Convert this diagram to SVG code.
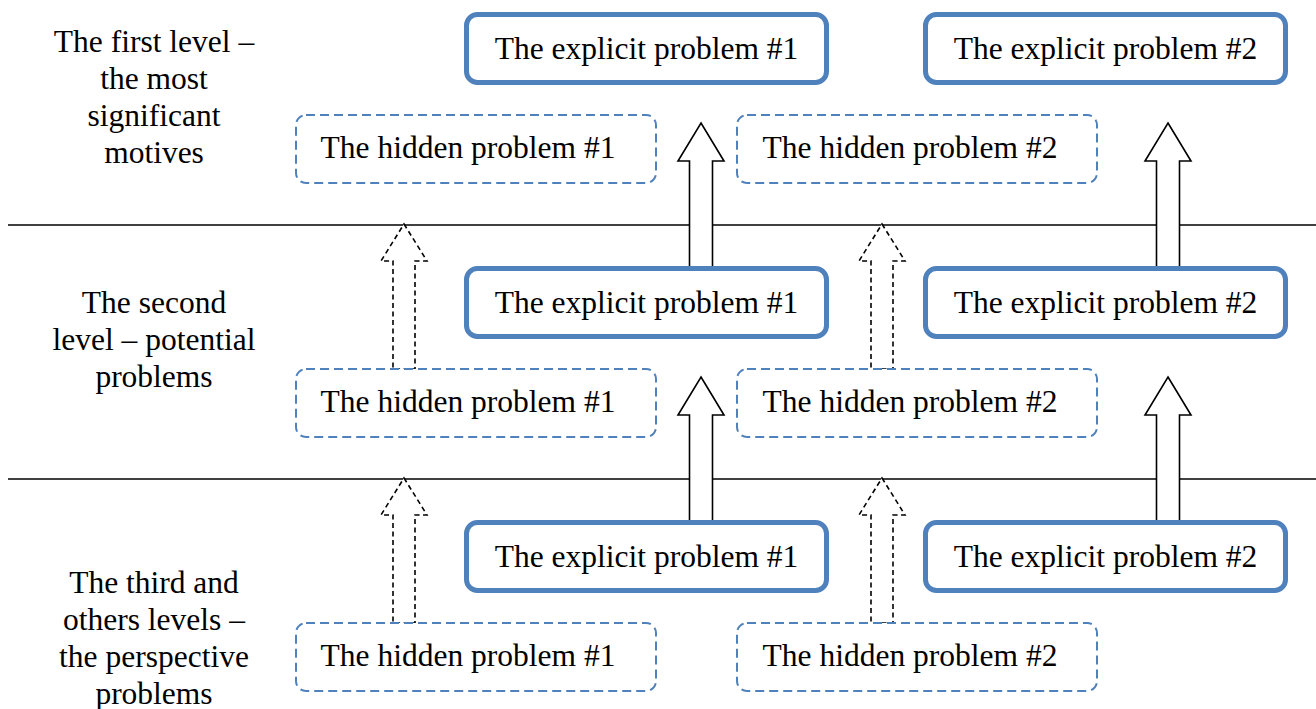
<svg xmlns="http://www.w3.org/2000/svg" width="1316" height="709" viewBox="0 0 1316 709">
<style>
.bg{fill:#ffffff}
.sep{stroke:#000;stroke-width:1.5}
.exp{fill:#fff;stroke:#4f81bd;stroke-width:5}
.hid{fill:#fff;stroke:#4f81bd;stroke-width:2;stroke-dasharray:9,5}
.t{font-family:"Liberation Serif","Times New Roman",serif;font-size:31.5px;fill:#000;text-anchor:middle}
.arr{fill:#fff;stroke:#000;stroke-width:1.6;stroke-linejoin:miter}
.darr{fill:#fff;stroke:#000;stroke-width:1.6;stroke-dasharray:5,3.5}
</style>
<rect class="bg" x="0" y="0" width="1316" height="709"/>
<g id="separators">
<line class="sep" x1="8" y1="225" x2="1316" y2="225"/>
<line class="sep" x1="8" y1="479" x2="1316" y2="479"/>
</g>
<g id="level-labels">
<text class="t" x="154" y="52">The first level –</text>
<text class="t" x="154" y="89">the most</text>
<text class="t" x="154" y="126">significant</text>
<text class="t" x="154" y="163">motives</text>
<text class="t" x="154" y="313">The second</text>
<text class="t" x="154" y="350">level – potential</text>
<text class="t" x="154" y="387">problems</text>
<text class="t" x="154" y="593">The third and</text>
<text class="t" x="154" y="630">others levels –</text>
<text class="t" x="154" y="667">the perspective</text>
<text class="t" x="154" y="704">problems</text>
</g>
<g id="connectors">
<path class="arr" d="M701,123 L724,161 L712.5,161 L712.5,268 L689.5,268 L689.5,161 L678,161 Z"/>
<path class="arr" d="M1168,123 L1191,161 L1179.5,161 L1179.5,268 L1156.5,268 L1156.5,161 L1145,161 Z"/>
<path class="arr" d="M701,377 L724,415 L712.5,415 L712.5,522 L689.5,522 L689.5,415 L678,415 Z"/>
<path class="arr" d="M1168,377 L1191,415 L1179.5,415 L1179.5,522 L1156.5,522 L1156.5,415 L1145,415 Z"/>
<path class="darr" d="M404,224 L427,261 L415,261 L415,369 L393,369 L393,261 L381,261 Z"/>
<path class="darr" d="M882,224 L905,261 L893,261 L893,369 L871,369 L871,261 L859,261 Z"/>
<path class="darr" d="M404,478 L427,515 L415,515 L415,623 L393,623 L393,515 L381,515 Z"/>
<path class="darr" d="M882,478 L905,515 L893,515 L893,623 L871,623 L871,515 L859,515 Z"/>
</g>
<g id="explicit-1-L1"><rect class="exp" x="466.5" y="14.5" width="360" height="68" rx="11"/><text class="t" x="646.5" y="59">The explicit problem #1</text></g>
<g id="explicit-2-L1"><rect class="exp" x="925.5" y="14.5" width="360" height="68" rx="11"/><text class="t" x="1105.5" y="59">The explicit problem #2</text></g>
<g id="hidden-1-L1"><rect class="hid" x="296" y="115" width="360" height="68" rx="10"/><text class="t" x="468" y="158">The hidden problem #1</text></g>
<g id="hidden-2-L1"><rect class="hid" x="737" y="115" width="360" height="68" rx="10"/><text class="t" x="910" y="158">The hidden problem #2</text></g>
<g id="explicit-1-L2"><rect class="exp" x="466.5" y="268.5" width="360" height="68" rx="11"/><text class="t" x="646.5" y="313">The explicit problem #1</text></g>
<g id="explicit-2-L2"><rect class="exp" x="925.5" y="268.5" width="360" height="68" rx="11"/><text class="t" x="1105.5" y="313">The explicit problem #2</text></g>
<g id="hidden-1-L2"><rect class="hid" x="296" y="369" width="360" height="68" rx="10"/><text class="t" x="468" y="412">The hidden problem #1</text></g>
<g id="hidden-2-L2"><rect class="hid" x="737" y="369" width="360" height="68" rx="10"/><text class="t" x="910" y="412">The hidden problem #2</text></g>
<g id="explicit-1-L3"><rect class="exp" x="466.5" y="522.5" width="360" height="68" rx="11"/><text class="t" x="646.5" y="567">The explicit problem #1</text></g>
<g id="explicit-2-L3"><rect class="exp" x="925.5" y="522.5" width="360" height="68" rx="11"/><text class="t" x="1105.5" y="567">The explicit problem #2</text></g>
<g id="hidden-1-L3"><rect class="hid" x="296" y="623" width="360" height="68" rx="10"/><text class="t" x="468" y="666">The hidden problem #1</text></g>
<g id="hidden-2-L3"><rect class="hid" x="737" y="623" width="360" height="68" rx="10"/><text class="t" x="910" y="666">The hidden problem #2</text></g>
</svg>
